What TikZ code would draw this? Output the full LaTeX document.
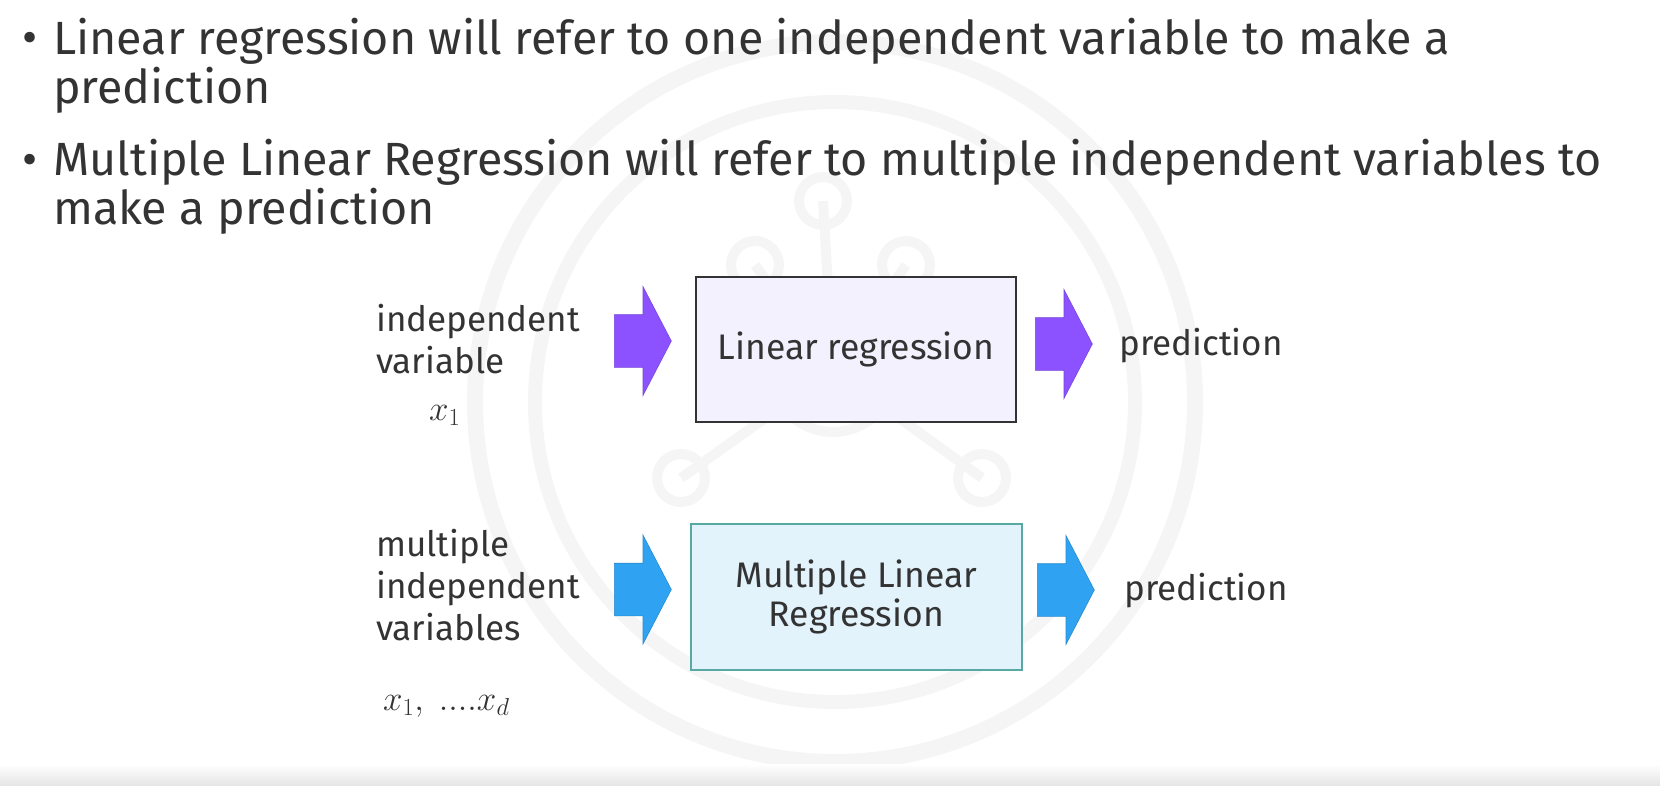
\documentclass[tikz,border=0pt]{standalone}
\usepackage{fix-cm}
\usepackage{fontspec}
\setmainfont{Fira Sans}
\usetikzlibrary{positioning,shapes.arrows}
\definecolor{txtgray}{HTML}{333333}
\definecolor{arrpurple}{HTML}{8C52FF}
\definecolor{arrblue}{HTML}{2FA3F1}
\definecolor{lrfill}{HTML}{F3F1FE}
\definecolor{mlrfill}{HTML}{E2F3FC}
\definecolor{mlrdraw}{HTML}{58A8A4}
\definecolor{wmark}{HTML}{F5F5F5}

\tikzset{
    lbl/.style={font=\fontsize{35}{42}\selectfont, text=txtgray, align=left, inner sep=0pt},
    bullettxt/.style={font=\fontsize{46.6}{49}\selectfont, text=txtgray, align=left, inner sep=0pt},
    mathlbl/.style={font=\fontsize{35}{40}\selectfont, text=txtgray, inner sep=0pt},
    barrow/.style={single arrow, fill=#1, draw=#1!85!black, line width=0.6,
        inner sep=0pt, inner ysep=26pt, single arrow head extend=28pt,
        single arrow tip angle=125, minimum height=57pt, anchor=tail},
    modelbox/.style={draw=#1, line width=1.6, align=center, text=txtgray,
        font=\fontsize{35.5}{39}\selectfont},
}

\begin{document}
\begin{tikzpicture}[x=1pt, y=-1pt]
    \useasboundingbox (0,0) rectangle (1660,785);
    % faint watermark behind the slide
    \draw[wmark, line width=16] (835,402) circle (360);
    \draw[wmark, line width=14] (835,402) circle (300);
    \draw[wmark, line width=10] (833,370) circle (62);
    \foreach \px/\py in {823/201, 755/265, 906/265, 681/478, 982/478}{
        \draw[wmark, line width=10] (\px,\py) circle (24);
        \draw[wmark, line width=10] (833,370) -- (\px,\py);
    }
    \shade[top color=white, bottom color=gray!20] (0,764) rectangle (1660,785);

    % bullets
    \node[bullettxt, anchor=base] (b1) at (30,53) {•};
    \node[bullettxt, anchor=base west] (t1) at (53,103)
        {Linear regression will refer to one independent variable to make a\\prediction};
    \node[bullettxt, anchor=base] (b2) at (30,175) {•};
    \node[bullettxt, anchor=base west] (t2) at (53,224)
        {Multiple Linear Regression will refer to multiple independent variables to\\make a prediction};

    % simple linear regression
    \node[modelbox=txtgray, fill=lrfill, minimum width=320, minimum height=145]
        (lr) at (856,349.5) {Linear regression};
    \node[lbl, anchor=base west] (iv) at (376,373) {independent\\variable};
    \node[mathlbl, anchor=base west] (x1) at (429,420) {$x_1$};
    \node[barrow=arrpurple] (in1) at (614,341) {};
    \node[barrow=arrpurple] (out1) at (1035,344) {};
    \node[lbl, anchor=base west] (p1) at (1119,355) {prediction};

    % multiple linear regression
    \node[modelbox=mlrdraw, fill=mlrfill, minimum width=331, minimum height=146]
        (mlr) at (856.5,597) {Multiple Linear\\Regression};
    \node[lbl, anchor=base west] (miv) at (376,640) {multiple\\independent\\variables};
    \node[mathlbl, anchor=base west] (xd) at (383,710) {$x_1,\ ....x_d$};
    \node[barrow=arrblue] (in2) at (614,589.5) {};
    \node[barrow=arrblue] (out2) at (1037,590) {};
    \node[lbl, anchor=base west] (p2) at (1124,600) {prediction};
\end{tikzpicture}
\end{document}
